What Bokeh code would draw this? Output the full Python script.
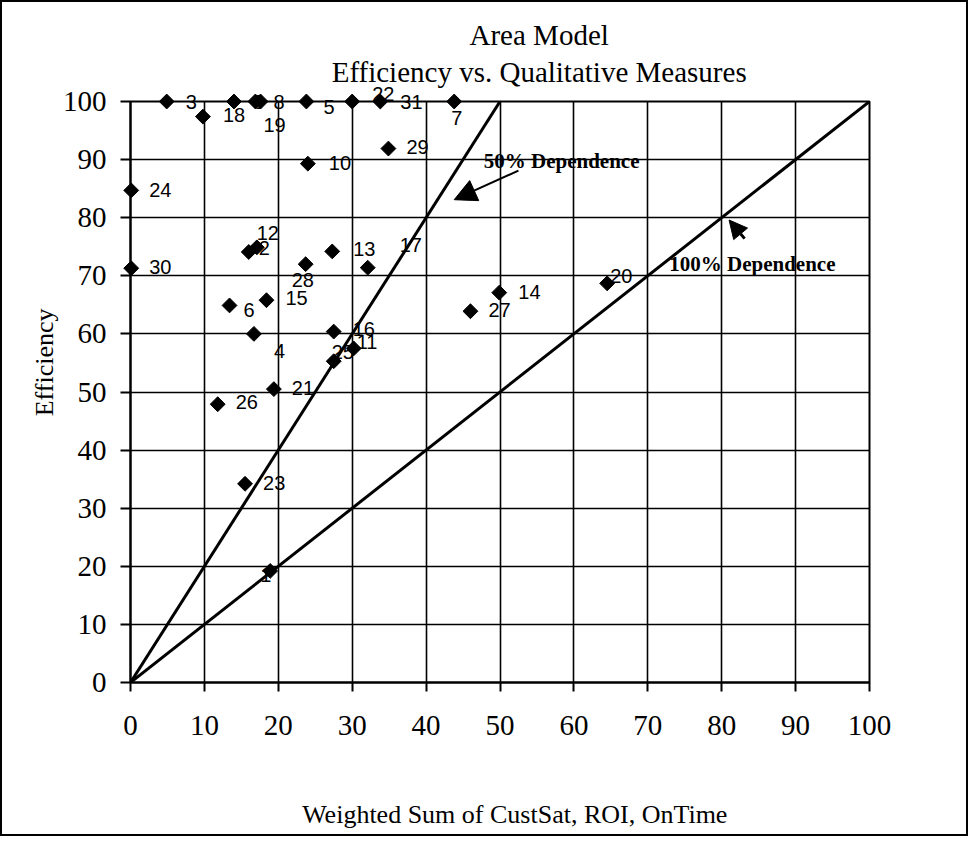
import math
from bokeh.plotting import figure
from bokeh.models import (Range1d, ColumnDataSource, Label, Arrow,
                          NormalHead, FixedTicker)
from bokeh.embed import file_html
from bokeh.resources import INLINE
from bokeh.core.properties import value

# ---- data ----
point_ids = [str(i) for i in range(1, 32)]
weighted_sum = [18.9, 17.1, 4.9, 16.7, 23.8, 13.4, 43.8, 17.6, 14.0, 24.0,
                30.2, 16.0, 27.3, 49.9, 18.4, 27.5, 32.1, 9.8, 16.9, 64.5,
                19.4, 30.0, 15.5, 0.1, 27.5, 11.8, 46.0, 23.7, 34.9, 0.1, 33.8]
efficiency = [19.2, 74.9, 100, 60.0, 100, 64.9, 100, 100, 100, 89.3,
              57.5, 74.1, 74.2, 67.1, 65.8, 60.4, 71.4, 97.4, 100, 68.7,
              50.5, 100, 34.2, 84.7, 55.3, 47.9, 63.9, 72.0, 91.9, 71.3, 100]

dep50_x = [0, 50]
dep50_y = [0, 100]
dep100_x = [0, 100]
dep100_y = [0, 100]

tick_values = [0, 10, 20, 30, 40, 50, 60, 70, 80, 90, 100]

title_lines = ["Area Model", "Efficiency vs. Qualitative Measures"]
x_title = "Weighted Sum of CustSat, ROI, OnTime"
y_title = "Efficiency"

# label placement (screen px): dx to the right, dy downward
label_dx = [-10, 2, 19, 20, 17, 14, -3, 13, 19, 21, 3, 8, 21, 19, 19, 19, 32, 20, 8, 3,
            18, 20, 18, 18, -2, 18, 18, -14, 18, 18, 20]
label_dy = [4, 1, 0, 17, 5, 5, 16, 0, 0, -1, -6, -19, -2, -1, -2, -3, -23, -2, 23, -7,
            -1, -8, -1, 0, -9, -2, -1, 16, -2, -1, 0]

SERIF = "Liberation Serif"
SANS = "Liberation Sans"

p = figure(width=968, height=836, output_backend="svg", toolbar_location=None,
           x_range=Range1d(0, 100), y_range=Range1d(0, 100),
           min_border_left=128, min_border_right=101, min_border_top=99,
           min_border_bottom=156)
p.styles = {"border": "2px solid black", "box-sizing": "border-box"}
p.background_fill_color = "white"
p.border_fill_color = "white"
p.outline_line_color = "black"
p.outline_line_width = 2

for ax in (p.xaxis[0], p.yaxis[0]):
    ax.ticker = FixedTicker(ticks=tick_values)
    ax.axis_line_color = "black"
    ax.axis_line_width = 2
    ax.major_tick_line_color = "black"
    ax.major_tick_line_width = 2
    ax.major_tick_in = 0
    ax.minor_tick_line_color = None
    ax.major_label_text_font = SERIF
    ax.major_label_text_font_size = "29px"
    ax.major_label_text_color = "black"

p.xaxis.major_tick_out = 9
p.xaxis.major_label_standoff = 24
p.yaxis.major_tick_out = 10
p.yaxis.major_label_standoff = 14

p.grid.grid_line_color = "black"
p.grid.grid_line_width = 1.6
p.grid.grid_line_alpha = 1.0

src = ColumnDataSource(dict(x=weighted_sum, y=efficiency, t=point_ids,
                            dx=label_dx, dy=label_dy))

# dependence lines
p.line(dep50_x, dep50_y, line_color="black", line_width=3)
p.line(dep100_x, dep100_y, line_color="black", line_width=3)

# data labels (under the markers, not clipped)
p.text(x="x", y="y", text="t", source=src, x_offset="dx", y_offset="dy",
       text_font=value(SANS), text_font_size="20px", text_color="black",
       text_align="left", text_baseline="middle", level="overlay")

# markers (overlay level so they are not clipped at the frame edges)
p.scatter("x", "y", source=src, marker="square", angle=math.pi / 4, size=10.5,
          fill_color="black", line_color="black", level="overlay")

# annotations
def lab(**kw):
    base = dict(text_color="black", level="overlay", text_baseline="middle")
    base.update(kw)
    p.add_layout(Label(**base))

lab(x=47.8, y=89.8, text="50% Dependence", text_font=SERIF,
    text_font_style="bold", text_font_size="21px", text_align="left")
p.add_layout(Arrow(x_start=52.5, y_start=88.1, x_end=43.8, y_end=83.1,
                   line_width=2, line_color="black", level="overlay",
                   end=NormalHead(size=22, fill_color="black", line_color="black")))
lab(x=72.9, y=72.0, text="100% Dependence", text_font=SERIF,
    text_font_style="bold", text_font_size="21px", text_align="left")
p.add_layout(Arrow(x_start=83.1, y_start=76.4, x_end=81.0, y_end=79.6,
                   line_width=3, line_color="black", level="overlay",
                   end=NormalHead(size=18, fill_color="black", line_color="black")))

# titles and axis titles (text glyphs on the overlay level are not clipped)
def txt(x, y, s, size, angle=0.0):
    p.text(x=[x], y=[y], text=[s], text_font=value(SERIF), text_font_size=size,
           text_color="black", text_align="center", text_baseline="middle",
           angle=angle, level="overlay")

txt(55.3, 111.5, title_lines[0], "29px")
txt(55.3, 105.0, title_lines[1], "29px")
txt(52.0, -22.7, x_title, "26px")
txt(-11.6, 55.1, y_title, "26px", angle=math.pi / 2)

open("out.html", "w").write(file_html(p, INLINE))
